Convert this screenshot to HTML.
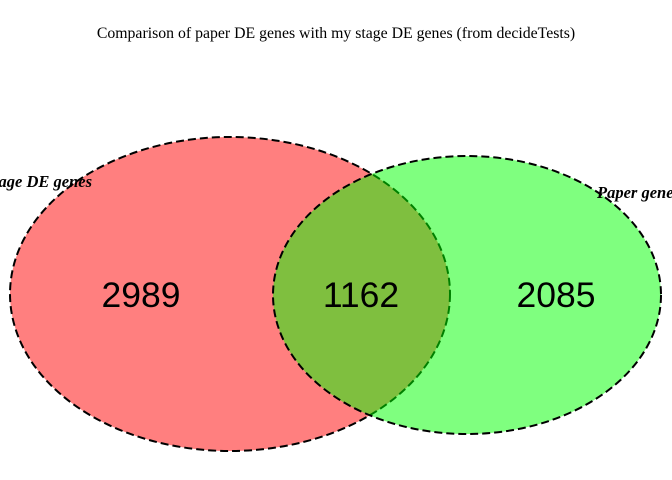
<!DOCTYPE html>
<html><head><meta charset="utf-8"><style>html,body{margin:0;padding:0;background:#fff;width:672px;height:480px;overflow:hidden}</style></head>
<body>
<svg width="672" height="480" viewBox="0 0 672 480">
<text x="336" y="38" text-anchor="middle" font-family="Liberation Serif, serif" font-size="15.8">Comparison of paper DE genes with my stage DE genes (from decideTests)</text>
<g id="sets"></g>
<g id="labels"></g>
</svg>
<script>
const setNames = ["My stage DE genes", "Paper genes"];
const regionCounts = [2989, 1162, 2085];
const NS = "http://www.w3.org/2000/svg";
const sets = document.getElementById('sets');
const labs = document.getElementById('labels');
const ell = [
  {cx:230, cy:294, rx:220, ry:157, fill:"rgba(255,0,0,0.5)"},
  {cx:467, cy:295, rx:194, ry:139, fill:"rgba(0,255,0,0.5)"}
];
ell.forEach((e,i)=>{
  const el=document.createElementNS(NS,'ellipse');
  el.setAttribute('cx',e.cx);el.setAttribute('cy',e.cy);el.setAttribute('rx',e.rx);el.setAttribute('ry',e.ry);
  el.setAttribute('fill',e.fill);el.setAttribute('stroke','#000');el.setAttribute('stroke-width','2');el.setAttribute('stroke-dasharray','8,4');
  
  
  sets.appendChild(el);
});
const nameSpecs=[{x:92,y:187,anchor:"end"},{x:597,y:198,anchor:"start"}];
setNames.forEach((n,i)=>{
  const t=document.createElementNS(NS,'text');
  t.setAttribute('x',nameSpecs[i].x);t.setAttribute('y',nameSpecs[i].y);t.setAttribute('text-anchor',nameSpecs[i].anchor);
  t.setAttribute('font-family','Liberation Serif, serif');t.setAttribute('font-size','16.5');t.setAttribute('font-weight','bold');t.setAttribute('font-style','italic');
  t.textContent=n;
  
  
  labs.appendChild(t);
});
const countX=[141,361,556];
regionCounts.forEach((c,i)=>{
  const t=document.createElementNS(NS,'text');
  t.setAttribute('x',countX[i]);t.setAttribute('y',307);t.setAttribute('text-anchor','middle');
  t.setAttribute('font-family','Liberation Sans, DejaVu Sans, sans-serif');t.setAttribute('font-size','35.5');
  t.textContent=c;
  
  
  labs.appendChild(t);
});
</script>
</body></html>
